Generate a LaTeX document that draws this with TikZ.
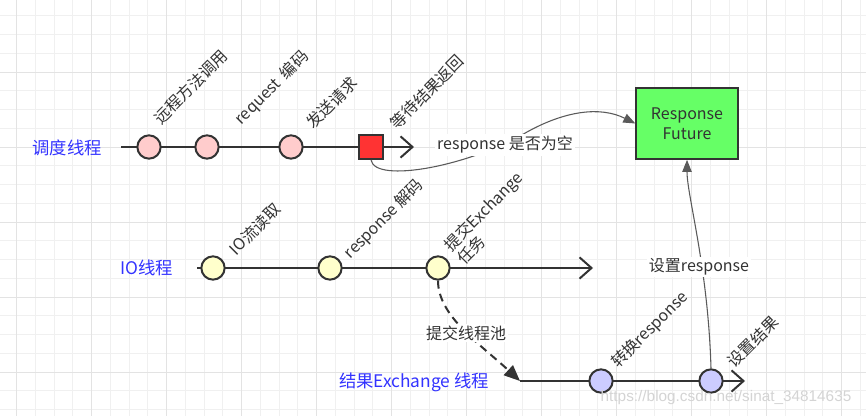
\documentclass[tikz,border=0pt]{standalone}
\usepackage{fontspec}
\setmainfont{Noto Sans CJK SC}
\newfontfamily\markfont{Liberation Sans}
\usetikzlibrary{arrows.meta}

\definecolor{inkgray}{HTML}{333333}
\definecolor{wiregray}{HTML}{5A5A5A}
\definecolor{threadblue}{HTML}{3333FF}
\definecolor{pinkfill}{HTML}{FFCCCC}
\definecolor{yellowfill}{HTML}{FFFFCC}
\definecolor{lilacfill}{HTML}{CCCCFF}
\definecolor{waitred}{HTML}{FF3333}
\definecolor{futuregreen}{HTML}{66FF66}

\tikzset{
	gridminor/.style={line width=0.75pt, color=black!6},
	gridmajor/.style={line width=0.75pt, color=black!11},
	stage/.style={circle, draw=inkgray, line width=1.5pt, minimum size=17.5pt, inner sep=0pt},
	stagelabel/.style={rotate=45, text=inkgray, align=left, font=\fontsize{12}{13}\selectfont},
	threadname/.style={text=threadblue, font=\fontsize{13}{15}\selectfont},
	lane/.style={draw=inkgray, line width=1.5pt, -{Straight Barb[length=9pt,width=16pt]}},
	wire/.style={draw=wiregray, line width=0.8pt, -{Triangle[length=9pt,width=7pt]}},
	wirelabel/.style={fill=white, text=inkgray, inner sep=1.5pt, font=\fontsize{12}{13}\selectfont},
}

\begin{document}
\begin{tikzpicture}[x=0.75pt, y=0.75pt]
		%%%%% START %%%%%
		
		\fill[white] (0, 0) rectangle (866, 416);
		\useasboundingbox (0, 0) rectangle (866, 416);
		
		% grid
		\foreach \i in {0,...,45} \draw[gridminor] ({16.7+18.75*\i}, 0) -- ({16.7+18.75*\i}, 416);
		\foreach \k in {1,...,22} \draw[gridminor] (0, {418.75-18.75*\k}) -- (866, {418.75-18.75*\k});
		\foreach \i in {0,...,11} \draw[gridmajor] ({16.7+75*\i}, 0) -- ({16.7+75*\i}, 416);
		\foreach \k in {1,...,5} \draw[gridmajor] (0, {418.7-75*\k}) -- (866, {418.7-75*\k});
		
		% dispatch thread
		\node[threadname] (dispatch) at (67, 268) {调度线程};
		\coordinate (d0) at (121, 269);
		\coordinate (d1) at (414, 269);
		\draw[lane] (d0) -- (d1);
		\node[stage, fill=pinkfill] (call) at (149, 269) {};
		\node[stage, fill=pinkfill] (encode) at (207, 269) {};
		\node[stage, fill=pinkfill] (send) at (291, 269) {};
		\node[draw=inkgray, line width=1.5pt, fill=waitred, minimum size=18pt, inner sep=0pt] (wait) at (371, 269) {};
		\node[stagelabel] (callL) at (191, 329) {远程方法调用};
		\node[stagelabel] (encodeL) at (272, 328) {request~ 编码};
		\node[stagelabel] (sendL) at (332, 313) {发送请求};
		\node[stagelabel] (waitL) at (427, 324) {等待结果返回};
		
		\node[draw=inkgray, line width=1.5pt, fill=futuregreen, minimum width=76pt, minimum height=53pt, align=center, text=inkgray, font=\fontsize{12}{15}\selectfont] (future) at (687, 292.5) {Response\\Future};
		
		% IO thread
		\node[threadname] (io) at (147, 148) {IO线程};
		\coordinate (i0) at (197, 148);
		\coordinate (i1) at (593, 148);
		\draw[lane] (i0) -- (i1);
		\node[stage, fill=yellowfill] (read) at (213, 148) {};
		\node[stage, fill=yellowfill] (decode) at (330, 148) {};
		\node[stage, fill=yellowfill] (submit) at (438, 148) {};
		\node[stagelabel] (readL) at (255, 187) {IO流读取};
		\node[stagelabel] (decodeL) at (384, 197) {response 解码};
		\node[stagelabel] (submitL) at (490, 198) {提交Exchange\\任务};
		
		% exchange thread
		\node[threadname] (exchange) at (414, 34) {结果Exchange 线程};
		\coordinate (e0) at (520, 35);
		\coordinate (e1) at (745, 35);
		\draw[lane] (e0) -- (e1);
		\node[stage, fill=lilacfill] (convert) at (601, 35) {};
		\node[stage, fill=lilacfill] (setres) at (711, 35) {};
		\node[stagelabel] (convertL) at (650, 86) {转换response};
		\node[stagelabel] (setresL) at (753, 74) {设置结果};
		
		% connectors
		\draw[wire] (wait.south) .. controls (375, 232) and (470, 250) .. (527, 284) .. controls (565, 305) and (600, 310) .. (future.west);
		\node[wirelabel] (emptyL) at (505, 271) {response 是否为空};
		
		\draw[draw=inkgray, line width=1.5pt, dash pattern=on 6pt off 4pt, -{Triangle[length=12pt,width=10pt]}] (submit.south) .. controls (438, 100) and (480, 72) .. (e0);
		\node[wirelabel] (poolL) at (466, 83) {提交线程池};
		
		\draw[wire] (setres.north) .. controls (708, 150) and (687, 220) .. (future.south);
		\node[wirelabel] (setL) at (699, 149) {设置response};
		
		\node[text=black!17, font=\markfont\fontsize{11.5}{13}\selectfont] (mark) at (726, 18) {https://blog.csdn.net/sinat\_34814635};
		
		%%%%% END %%%%%
	\end{tikzpicture}
\end{document}
